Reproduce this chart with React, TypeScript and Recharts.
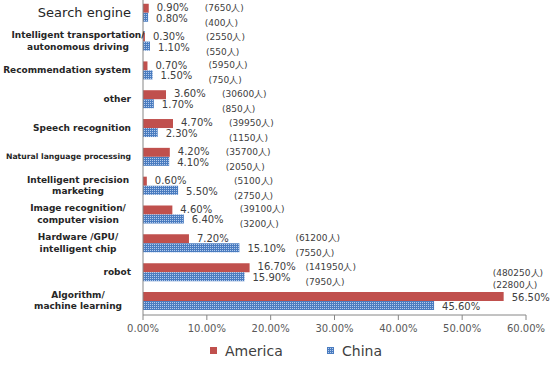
import { BarChart, Bar, XAxis, YAxis, LabelList, Legend } from "recharts";

const categories = [
  "Search engine",
  "Intelligent transportation/\nautonomous driving",
  "Recommendation system",
  "other",
  "Speech recognition",
  "Natural language processing",
  "Intelligent precision\nmarketing",
  "Image recognition/\ncomputer vision",
  "Hardware /GPU/\nintelligent chip",
  "robot",
  "Algorithm/\nmachine learning",
];

const americaPct = [0.9, 0.3, 0.7, 3.6, 4.7, 4.2, 0.6, 4.6, 7.2, 16.7, 56.5];
const chinaPct = [0.8, 1.1, 1.5, 1.7, 2.3, 4.1, 5.5, 6.4, 15.1, 15.9, 45.6];
const americaCount = [7650, 2550, 5950, 30600, 39950, 35700, 5100, 39100, 61200, 141950, 480250];
const chinaCount = [400, 550, 750, 850, 1150, 2050, 2750, 3200, 7550, 7950, 22800];

const xTicks = [0, 10, 20, 30, 40, 50, 60];

const data = categories.map((name, i) => ({
  name,
  america: americaPct[i],
  china: chinaPct[i],
}));

const FONT = "'DejaVu Sans', sans-serif";
const RED = "#C0504D";
const TEXT = "#404040";

// LabelList hands us either x/y/width/height or a viewBox
function box(props: any) {
  const vb = props.viewBox || {};
  return {
    x: props.x ?? vb.x,
    y: props.y ?? vb.y,
    width: props.width ?? vb.width,
    height: props.height ?? vb.height,
  };
}

function CategoryTick(props: any) {
  const { x, y, payload } = props;
  const lines: string[] = String(payload.value).split("\n");
  if (lines.length === 1) {
    const big = payload.value === "Search engine";
    const small = payload.value === "Natural language processing";
    return (
      <text
        x={x - 4}
        y={y}
        textAnchor="end"
        dominantBaseline="central"
        fontFamily={FONT}
        fontSize={big ? 13 : small ? 7.7 : 9}
        fontWeight={big ? "normal" : "bold"}
        fill="#262626"
      >
        {payload.value}
      </text>
    );
  }
  const lh = 11.5;
  return (
    <text textAnchor="middle" fontFamily={FONT} fontSize={9} fontWeight="bold" fill="#262626">
      {lines.map((l, k) => (
        <tspan
          key={k}
          x={78}
          y={y + (k - (lines.length - 1) / 2) * lh}
          dominantBaseline="central"
        >
          {l}
        </tspan>
      ))}
    </text>
  );
}

function AmericaLabel(props: any) {
  const { x, y, width, height } = box(props);
  const i = props.index;
  const am = americaPct[i];
  const cn = chinaPct[i];
  const pxPer = am > 0 ? width / am : 0;
  const end = x + width;
  const cy = y + height / 2;
  const maxEnd = x + Math.max(am, cn) * pxPer;
  const big = Math.max(am, cn) > 40;
  const cx = big ? end - 11 : maxEnd + 56;
  const cnY = cy + height;
  return (
    <g fontFamily={FONT} fill={TEXT}>
      <text x={end + 8} y={cy + (big ? 1.5 : -0.8)} dominantBaseline="central" fontSize={10}>
        {am.toFixed(2) + "%"}
      </text>
      <text x={cx} y={big ? cy - 23 : cy - 0.5} dominantBaseline="central" fontSize={9}>
        {"(" + americaCount[i] + "人)"}
      </text>
      <text x={cx} y={big ? cy - 11 : cnY + 5.5} dominantBaseline="central" fontSize={9}>
        {"(" + chinaCount[i] + "人)"}
      </text>
    </g>
  );
}

function ChinaLabel(props: any) {
  const { x, y, width, height } = box(props);
  const i = props.index;
  return (
    <text
      x={x + width + 8}
      y={y + height / 2 + 1}
      dominantBaseline="central"
      fontFamily={FONT}
      fontSize={10}
      fill={TEXT}
    >
      {chinaPct[i].toFixed(2) + "%"}
    </text>
  );
}

function LegendBox() {
  return (
    <svg width={556} height={22}>
      <rect x={210} y={7} width={7} height={7} fill={RED} />
      <text x={225} y={11} dominantBaseline="central" fontFamily={FONT} fontSize={14} fill={TEXT}>
        America
      </text>
      <rect x={327} y={7} width={7} height={7} fill="url(#chinaDots)" />
      <text x={342} y={11} dominantBaseline="central" fontFamily={FONT} fontSize={14} fill={TEXT}>
        China
      </text>
    </svg>
  );
}

export default function App() {
  return (
    <div style={{ position: "fixed", left: 0, top: 0, background: "#fff" }}>
      <BarChart
        width={556}
        height={365}
        data={data}
        layout="vertical"
        margin={{ top: -2, right: 30, bottom: 30, left: 0 }}
        barCategoryGap="20%"
        barGap={0}
      >
        <defs>
          <pattern id="chinaDots" width="2" height="2" patternUnits="userSpaceOnUse">
            <rect width="2" height="2" fill="#4A7CC0" />
            <rect x="0" y="0" width="1" height="1" fill="#B4CBEC" />
          </pattern>
        </defs>
        <XAxis
          type="number"
          domain={[0, 60]}
          ticks={xTicks}
          tickFormatter={(v: number) => v.toFixed(2) + "%"}
          height={20}
          stroke="#868686"
          tickSize={5}
          tickMargin={5}
          tick={{ fontFamily: FONT, fontSize: 10, fill: "#595959" }}
        />
        <YAxis
          type="category"
          dataKey="name"
          width={143}
          stroke="#868686"
          tickLine={false}
          tick={<CategoryTick />}
          interval={0}
        />
        <Legend
          layout="horizontal"
          verticalAlign="middle"
          align="center"
          wrapperStyle={{ top: 340, left: 0, width: 556 }}
          content={() => <LegendBox />}
        />
        <Bar dataKey="america" name="America" fill={RED} isAnimationActive={false}>
          <LabelList dataKey="america" content={(p: any) => <AmericaLabel {...p} />} />
        </Bar>
        <Bar dataKey="china" name="China" fill="url(#chinaDots)" isAnimationActive={false}>
          <LabelList dataKey="china" content={(p: any) => <ChinaLabel {...p} />} />
        </Bar>
      </BarChart>
    </div>
  );
}
